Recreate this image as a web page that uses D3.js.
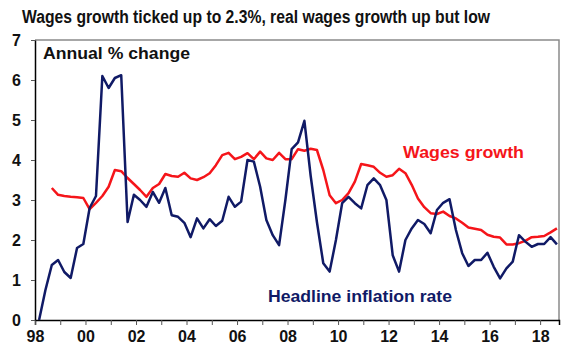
<!DOCTYPE html>
<html>
<head>
<meta charset="utf-8">
<script src="https://cdn.jsdelivr.net/npm/d3@7"></script>
<style>
  body { margin: 0; background: #fff; }
  svg { font-family: "Liberation Sans", Arial, sans-serif; font-weight: bold; }
</style>
</head>
<body>
<div id="chart"></div>
<script>
/* Wages growth vs headline inflation, annual % change, quarterly */

// headline CPI, Mar 1998 .. Sep 2018
const cpiStart = [1998, 3];
const cpi = [
    0, 0.75, 1.375, 1.5,
    1.2, 1.05, 1.8, 1.9,
    2.8, 3.1, 6.1, 5.8,
    6.05, 6.12, 2.45, 3.13,
    3.0, 2.83, 3.2, 2.93,
    3.3, 2.62, 2.58, 2.43,
    2.07, 2.54, 2.29, 2.52,
    2.35, 2.48, 3.08, 2.83,
    2.96, 4.0, 3.96, 3.33,
    2.5, 2.12, 1.87, 3.0,
    4.27, 4.44, 4.98, 3.6,
    2.45, 1.42, 1.21, 2.0,
    2.92, 3.08, 2.92, 2.79,
    3.37, 3.54, 3.37, 3.0,
    1.62, 1.21, 2.0, 2.29,
    2.5, 2.4, 2.17, 2.75,
    2.93, 3.02, 2.25, 1.67,
    1.35, 1.5, 1.5, 1.68,
    1.33, 1.04, 1.29, 1.46,
    2.12, 1.96, 1.83, 1.9,
    1.9, 2.07, 1.89
];

// wage price index growth, Sep 1998 .. Sep 2018
const wpiStart = [1998, 9];
const wpi = [
    3.3, 3.13,
    3.1, 3.08, 3.07, 3.05,
    2.77, 2.93, 3.1, 3.33,
    3.75, 3.72, 3.55, 3.4,
    3.25, 3.08, 3.3, 3.4,
    3.65, 3.6, 3.58, 3.68,
    3.54, 3.5, 3.57, 3.67,
    3.87, 4.12, 4.18, 4.02,
    4.08, 4.17, 4.02, 4.21,
    4.04, 4.0, 4.18, 4.02,
    4.02, 4.27, 4.23, 4.28,
    4.25, 3.75, 3.12, 2.92,
    3.0, 3.17, 3.46, 3.9,
    3.87, 3.83, 3.68, 3.58,
    3.62, 3.78, 3.67, 3.38,
    3.04, 2.82, 2.67, 2.65,
    2.71, 2.6, 2.54, 2.43,
    2.31, 2.28, 2.25, 2.13,
    2.08, 2.06, 1.89, 1.89,
    1.92, 1.98, 2.07, 2.08,
    2.1, 2.19, 2.29
];

const yTicks = [0, 1, 2, 3, 4, 5, 6, 7];
const xLabels = ["98", "00", "02", "04", "06", "08", "10", "12", "14", "16", "18"];

const width = 580,
      height = 352,
      margin = ({top: 40, right: 21, bottom: 32, left: 35});

const navy = "#101a66",
      red = "#f5151a";

// quarter dates, month numbers are 1-based
const toSeries = (start, vals) => vals.map((v, i) => ({
    date: new Date(start[0], start[1] - 1 + i * 3, 1),
    value: v
}));

const cpiData = toSeries(cpiStart, cpi);
const wpiData = toSeries(wpiStart, wpi);

let svg = d3.select("#chart")
    .append("svg")
    .attr("width", width)
    .attr("height", height);

const x = d3.scaleTime()
    .domain([new Date(1998, 0, 1), new Date(2018, 9, 1)])
    .range([margin.left, width - margin.right]);

const y = d3.scaleLinear()
    .domain([0, 7])
    .range([height - margin.bottom, margin.top]);

// frame on top and right
svg.append("path")
    .attr("d", `M${margin.left},${margin.top}H${width - margin.right}V${height - margin.bottom}`)
    .attr("fill", "none")
    .attr("stroke", "#8a8a8a")
    .attr("stroke-width", 1.5);

const years = d3.range(1998, 2019).map(yr => new Date(yr, 0, 1));

const tickText = g => g.selectAll(".tick text")
    .attr("font-size", 16)
    .attr("font-weight", "bold")
    .attr("font-family", "Liberation Sans, Arial, sans-serif")
    .attr("fill", "#111");

const xAxis = g => g
    .attr("transform", `translate(0,${height - margin.bottom})`)
    .call(d3.axisBottom(x)
        .tickValues(years)
        .tickSize(5)
        .tickPadding(6)
        .tickFormat((d, i) => i % 2 === 0 ? xLabels[i / 2] : ""))
    .call(g => g.select(".domain").attr("stroke-width", 1.5))
    .call(g => g.selectAll(".tick line").attr("stroke", "#555"))
    .call(tickText);

const yAxis = g => g
    .attr("transform", `translate(${margin.left},0)`)
    .call(d3.axisLeft(y)
        .tickValues(yTicks)
        .tickFormat(d3.format("d"))
        .tickSize(4)
        .tickPadding(10)
        .tickSizeOuter(0))
    .call(g => g.select(".domain").attr("stroke-width", 1.5))
    .call(g => g.selectAll(".tick line").attr("stroke", "#555"))
    .call(tickText);

svg.append("g").call(xAxis);
svg.append("g").call(yAxis);

const line = d3.line()
    .x(d => x(d.date))
    .y(d => y(d.value));

svg.append("path")
    .datum(wpiData)
    .attr("fill", "none")
    .attr("stroke", red)
    .attr("stroke-width", 2.5)
    .attr("stroke-linejoin", "round")
    .attr("d", line);

svg.append("path")
    .datum(cpiData)
    .attr("fill", "none")
    .attr("stroke", navy)
    .attr("stroke-width", 2.5)
    .attr("stroke-linejoin", "round")
    .attr("d", line);

// texts
const label = (txt, tx, ty, size, len, color) => svg.append("text")
    .text(txt)
    .attr("x", tx)
    .attr("y", ty)
    .attr("font-size", size)
    .attr("textLength", len)
    .attr("lengthAdjust", "spacingAndGlyphs")
    .attr("fill", color);

label("Wages growth ticked up to 2.3%, real wages growth up but low", 22, 23, 18, 468, "#111");
label("Annual % change", 43, 59, 17, 147, "#111");
label("Wages growth", 403, 158, 17, 121, red);
label("Headline inflation rate", 268, 302, 17, 184, navy);
</script>
</body>
</html>
